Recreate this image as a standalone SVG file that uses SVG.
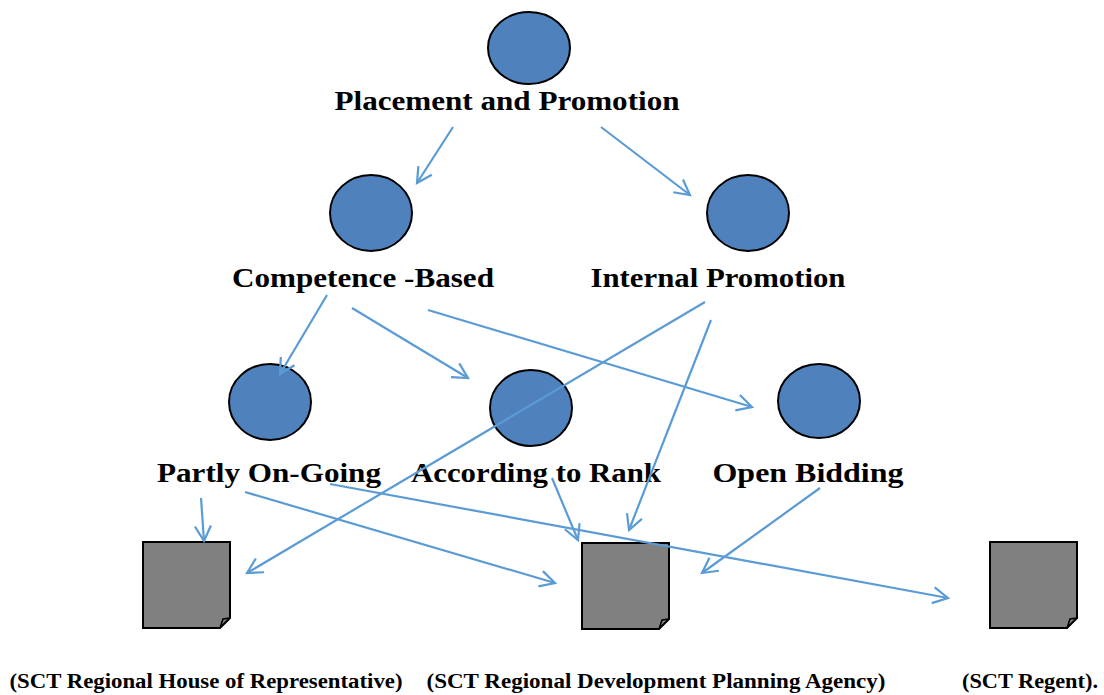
<svg xmlns="http://www.w3.org/2000/svg" width="1104" height="695" viewBox="0 0 1104 695">
<style>
.c{fill:#4F81BD;stroke:#000;stroke-width:2}
.d{fill:#808080;stroke:#000;stroke-width:2;stroke-linejoin:miter}
.t{font-family:"Liberation Serif","Times New Roman",serif;font-weight:bold;font-size:27px;fill:#000;text-anchor:middle}
.b{font-family:"Liberation Serif","Times New Roman",serif;font-weight:bold;font-size:20px;fill:#000;text-anchor:middle}
.e line{stroke:#5B9BD5;stroke-width:2.2;marker-end:url(#a)}
</style>
<defs>
<marker id="a" markerUnits="userSpaceOnUse" markerWidth="30" markerHeight="30" viewBox="-20 -15 30 30" refX="0" refY="0" orient="auto">
<path d="M-15,-8 L0,0 L-15,8" fill="none" stroke="#5B9BD5" stroke-width="2.2"/>
</marker>
<g id="doc"><path class="d" d="M0,0 H87 V76 L77,86 H0 Z"/><path d="M77,86 L80,77 L87,76" fill="none" stroke="#000" stroke-width="1.5"/></g>
</defs>
<rect width="1104" height="695" fill="#fff"/>
<g id="n-placement"><ellipse class="c" cx="529" cy="48" rx="41" ry="36"/><text class="t" x="507" y="110" textLength="345" lengthAdjust="spacingAndGlyphs">Placement and Promotion</text></g>
<g id="n-competence"><ellipse class="c" cx="371" cy="213" rx="41" ry="38"/><text class="t" x="363" y="287" textLength="262" lengthAdjust="spacingAndGlyphs">Competence -Based</text></g>
<g id="n-internal"><ellipse class="c" cx="748" cy="213" rx="41" ry="38"/><text class="t" x="718" y="287" textLength="255" lengthAdjust="spacingAndGlyphs">Internal Promotion</text></g>
<g id="n-partly"><ellipse class="c" cx="270" cy="402" rx="41" ry="38"/><text class="t" x="269" y="482" textLength="224" lengthAdjust="spacingAndGlyphs">Partly On-Going</text></g>
<g id="n-according"><ellipse class="c" cx="531" cy="408" rx="41" ry="38"/><text class="t" x="536" y="482" textLength="250" lengthAdjust="spacingAndGlyphs">According to Rank</text></g>
<g id="n-open"><ellipse class="c" cx="819" cy="401" rx="41" ry="37"/><text class="t" x="808" y="482" textLength="191" lengthAdjust="spacingAndGlyphs">Open Bidding</text></g>
<g id="n-house"><use href="#doc" x="143" y="542"/><text class="b" x="206" y="688" textLength="393" lengthAdjust="spacingAndGlyphs">(SCT Regional House of Representative)</text></g>
<g id="n-agency"><use href="#doc" x="582" y="543"/><text class="b" x="656" y="688" textLength="459" lengthAdjust="spacingAndGlyphs">(SCT Regional Development Planning Agency)</text></g>
<g id="n-regent"><use href="#doc" x="990" y="542"/><text class="b" x="1030" y="688" textLength="136" lengthAdjust="spacingAndGlyphs">(SCT Regent).</text></g>
<g id="connectors" class="e">
<line x1="453" y1="127" x2="417" y2="183"/>
<line x1="601" y1="127" x2="690" y2="195"/>
<line x1="327" y1="295" x2="280" y2="374"/>
<line x1="352" y1="308" x2="468" y2="378"/>
<line x1="428" y1="310" x2="752" y2="407"/>
<line x1="705" y1="302" x2="247" y2="573"/>
<line x1="711" y1="320" x2="629" y2="530"/>
<line x1="201" y1="498" x2="204" y2="541"/>
<line x1="245" y1="492" x2="555" y2="583"/>
<line x1="330" y1="484" x2="948" y2="598"/>
<line x1="552" y1="478" x2="578" y2="540"/>
<line x1="820" y1="488" x2="702" y2="573"/>
</g>
</svg>
